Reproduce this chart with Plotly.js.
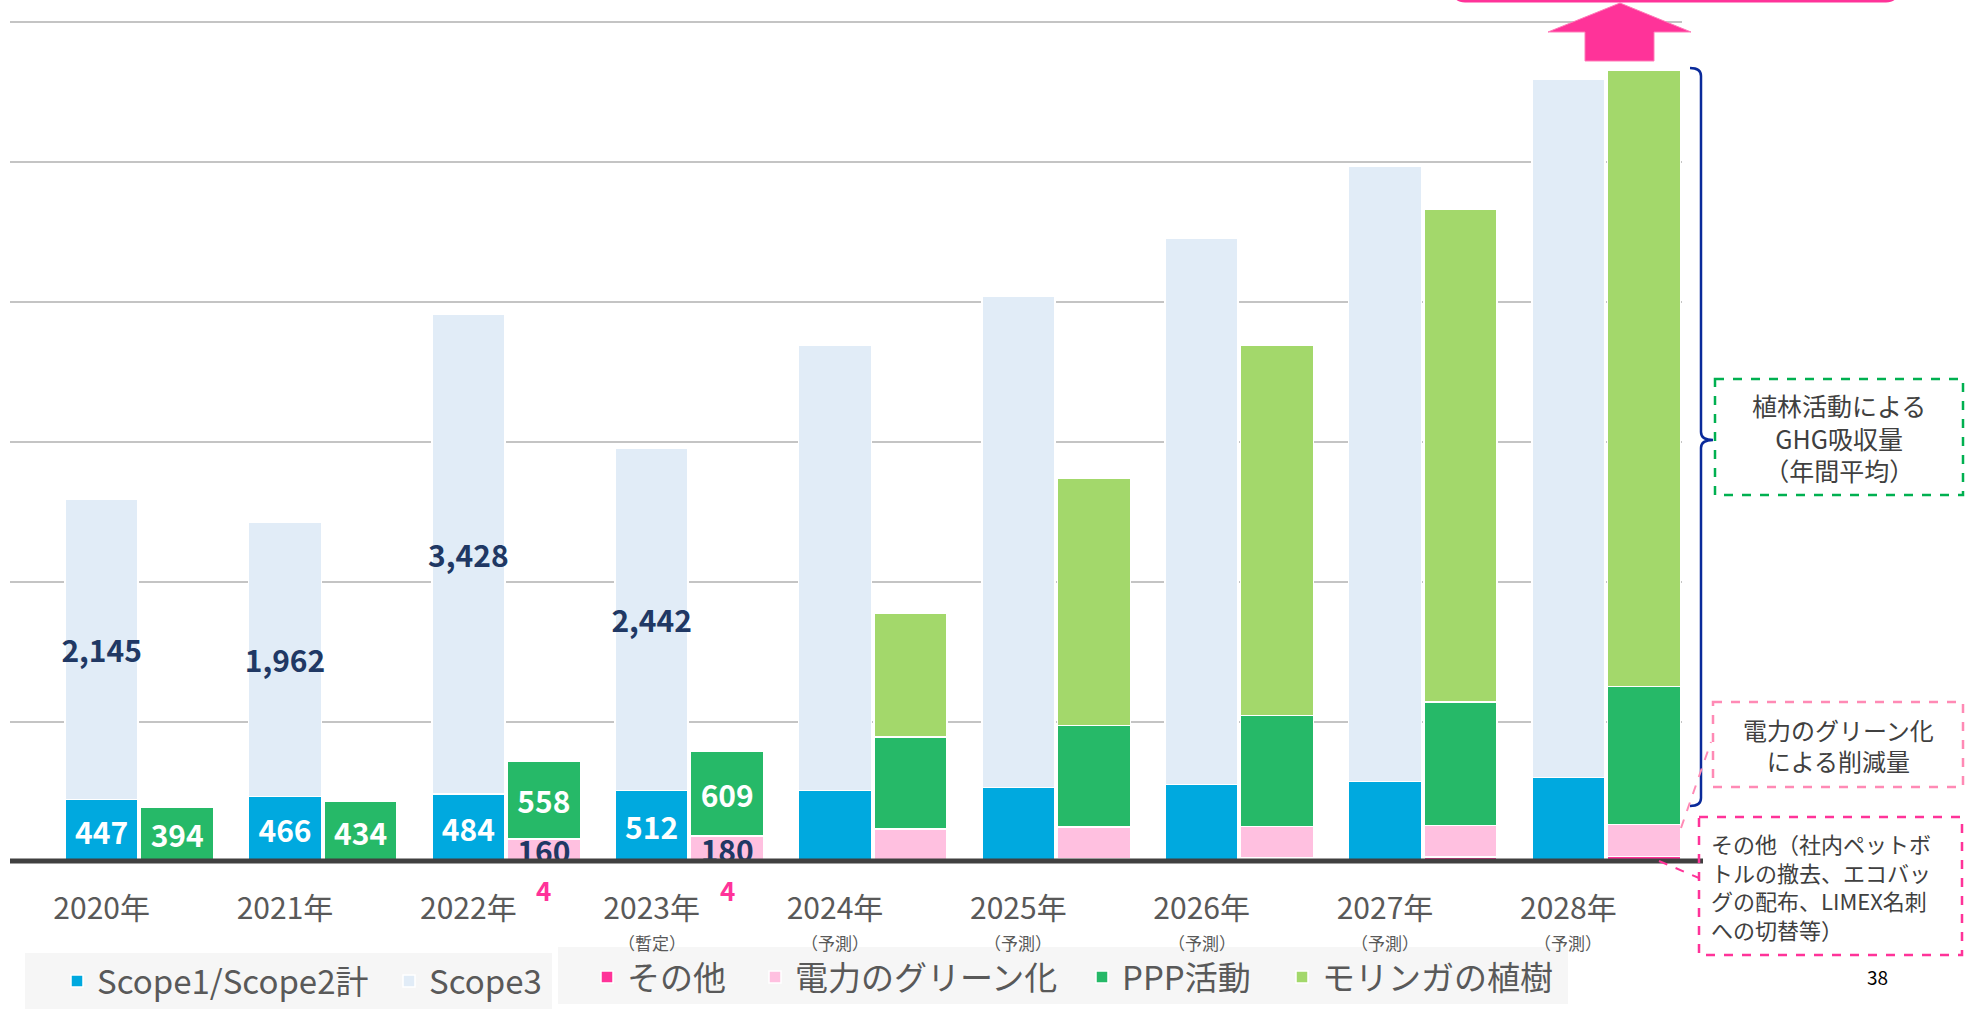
<!DOCTYPE html>
<html>
<head>
<meta charset="utf-8">
<script src="https://cdn.plot.ly/plotly-3.0.1.min.js"></script>
<style>
html,body{margin:0;padding:0;background:#ffffff;}
#chart{width:1966px;height:1009px;}
</style>
</head>
<body>
<div id="chart"></div>
<script>
// ---- data ----
const years = ['2020','2021','2022','2023','2024','2025','2026','2027','2028'];
const tickLabels = ['2020年','2021年','2022年','2023年','2024年','2025年','2026年','2027年','2028年'];
const subLabels = ['','','','（暫定）','（予測）','（予測）','（予測）','（予測）','（予測）'];
const scope12 = [447,466,484,512,511,532,552,576,602];
const scope3  = [2145,1962,3428,2442,3180,3505,3905,4395,4985];
const sonota   = [0,0,4,4,18,25,30,35,40];
const denryoku = [0,0,160,180,217,225,224,226,228];
const ppp      = [394,434,558,609,659,724,792,880,986];
const moringa  = [0,0,0,0,883,1766,2644,3523,4402];
const labeled  = [true,true,true,true,false,false,false,false,false];

const seriesNames = {
  s12: 'Scope1/Scope2計', s3: 'Scope3',
  so: 'その他', de: '電力のグリーン化', pp: 'PPP活動', mo: 'モリンガの植樹'
};

// ---- geometry helpers (pixel -> paper) ----
const W = 1966, H = 1009;
const ML = 10, MT = 20, PW = 1672, PH = 842;
const fx = px => (px - ML) / PW;
const fy = py => (MT + PH - py) / PH;
function path(cmds){
  return cmds.map(c => {
    const out = [];
    for (let i = 1; i < c.length; i += 2) out.push(fx(c[i]).toFixed(5) + ',' + fy(c[i+1]).toFixed(5));
    return c[0] + out.join(' ');
  }).join(' ');
}

const fmt = v => v.toLocaleString('en-US');
const FONT = '"Noto Sans CJK JP", "Noto Sans", sans-serif';
const BW = 0.398;

function bar(name, y, color, axis, legend, textArr, textColor){
  return {
    type:'bar', width: BW, hoverinfo:'skip', textangle:0, constraintext:'none',
    textposition:'inside', insidetextanchor:'middle', cliponaxis:false,
    name: name, x: years, y: y, xaxis: axis, yaxis: 'y', legend: legend,
    marker: {color: color, line: {color:'#ffffff', width:1.5}},
    text: textArr,
    textfont: {family: FONT, size: 30, color: textColor, weight: 700}
  };
}

const traces = [
  bar(seriesNames.s12, scope12, '#00A9DF', 'x', 'legend', scope12.map((v,i)=> labeled[i] ? fmt(v) : ''), '#ffffff'),
  bar(seriesNames.s3, scope3, '#E1ECF7', 'x', 'legend2', scope3.map((v,i)=> labeled[i] ? fmt(v) : ''), '#203864'),
  bar(seriesNames.so, sonota, '#FF3399', 'x2', 'legend3', sonota.map(()=> ''), '#FF3399'),
  bar(seriesNames.de, denryoku, '#FFC0E0', 'x2', 'legend4', denryoku.map((v,i)=> labeled[i] && v>0 ? fmt(v) : ''), '#203864'),
  bar(seriesNames.pp, ppp, '#26B968', 'x2', 'legend5', ppp.map((v,i)=> labeled[i] ? fmt(v) : ''), '#ffffff'),
  bar(seriesNames.mo, moringa, '#A3D86B', 'x2', 'legend6', moringa.map(()=> ''), '#ffffff')
];

// ---- annotations ----
const annotations = [];
subLabels.forEach((s,i) => {
  if (s) annotations.push({xref:'x', x: i, yref:'paper', y: fy(942), text: s, showarrow:false,
    font:{family: FONT, size:17, color:'#595959'}, xanchor:'center', yanchor:'middle'});
});
sonota.forEach((v,i) => {
  if (labeled[i] && v > 0) annotations.push({xref:'x2', x: i, yref:'y', y: 0, yshift: -27, text: String(v),
    showarrow:false, font:{family: FONT, size:26, color:'#FF3399', weight:700}, xanchor:'center', yanchor:'middle'});
});
annotations.push({xref:'paper', yref:'paper', x: fx(1839), y: fy(437), text:'植林活動による<br>GHG吸収量<br>（年間平均）',
  showarrow:false, font:{family: FONT, size:25, color:'#404040'}, align:'center', xanchor:'center', yanchor:'middle'});
annotations.push({xref:'paper', yref:'paper', x: fx(1838), y: fy(745), text:'電力のグリーン化<br>による削減量',
  showarrow:false, font:{family: FONT, size:24, color:'#404040'}, align:'center', xanchor:'center', yanchor:'middle'});
annotations.push({xref:'paper', yref:'paper', x: fx(1709), y: fy(886), text:'その他（社内ペットボ<br>トルの撤去、エコバッ<br>グの配布、LIMEX名刺<br>への切替等）',
  showarrow:false, font:{family: FONT, size:22, color:'#404040'}, align:'left', xanchor:'left', yanchor:'middle'});
annotations.push({xref:'paper', yref:'paper', x: fx(1877), y: fy(976), text:'38',
  showarrow:false, font:{family: FONT, size:19, color:'#000000'}, xanchor:'center', yanchor:'middle'});

// ---- shapes ----
const shapes = [
  // legend backgrounds
  {type:'rect', xref:'paper', yref:'paper', x0: fx(25), x1: fx(552), y0: fy(953), y1: fy(1012),
   fillcolor:'#f6f6f6', line:{width:0}, layer:'below'},
  {type:'rect', xref:'paper', yref:'paper', x0: fx(558), x1: fx(1568), y0: fy(947), y1: fy(1004),
   fillcolor:'#f6f6f6', line:{width:0}, layer:'below'},
  // baseline
  {type:'line', xref:'paper', yref:'paper', x0: fx(10), x1: fx(1703), y0: fy(861), y1: fy(861),
   line:{color:'#404040', width:5}, layer:'above'},
  // brace
  {type:'path', xref:'paper', yref:'paper', layer:'above', line:{color:'#0A2A9A', width:2.5},
   path: path([['M',1690,68],['Q',1701,68,1701,76],['L',1701,432],['Q',1701,440,1713,440],['Q',1701,440,1701,448],['L',1701,798],['Q',1701,806,1690,806]])},
  // green dashed box
  {type:'rect', xref:'paper', yref:'paper', x0: fx(1715), x1: fx(1963), y0: fy(379), y1: fy(495),
   line:{color:'#00B050', width:2.5, dash:'dash'}},
  // pink dashed box (electricity)
  {type:'rect', xref:'paper', yref:'paper', x0: fx(1713), x1: fx(1963), y0: fy(702), y1: fy(787),
   line:{color:'#FF8AB5', width:2.5, dash:'dash'}},
  // pink dashed box (others)
  {type:'rect', xref:'paper', yref:'paper', x0: fx(1699), x1: fx(1962), y0: fy(817), y1: fy(955),
   line:{color:'#FF3399', width:2.5, dash:'dash'}},
  // connector lines
  {type:'line', xref:'paper', yref:'paper', x0: fx(1681), y0: fy(828), x1: fx(1711), y1: fy(742),
   line:{color:'#FF8AB5', width:2, dash:'dash'}},
  {type:'line', xref:'paper', yref:'paper', x0: fx(1659), y0: fy(861), x1: fx(1699), y1: fy(878),
   line:{color:'#FF3399', width:2, dash:'dash'}},
  // up arrow
  {type:'path', xref:'paper', yref:'paper', fillcolor:'#FF3399', line:{color:'#FF7AB8', width:1},
   path: path([['M',1620,3],['L',1691,32],['L',1654,32],['L',1654,61],['L',1585,61],['L',1585,32],['L',1548,32],['Z']])},
  // top box (cut off)
  {type:'path', xref:'paper', yref:'paper', line:{color:'#FF3399', width:3},
   path: path([['M',1455,-40],['L',1455,-8],['Q',1455,1,1465,1],['L',1886,1],['Q',1896,1,1896,-8],['L',1896,-40]])}
];

function legendAt(px, py){
  return {orientation:'h', xref:'container', yref:'container', x: px / W, y: 1 - py / H,
    xanchor:'left', yanchor:'middle', bgcolor:'rgba(0,0,0,0)',
    font:{family: FONT, size:33, color:'#595959'}, traceorder:'normal', itemclick:false};
}

const layout = {
  width: W, height: H,
  margin: {l: ML, r: W - ML - PW, t: MT, b: H - MT - PH, pad: 0, autoexpand:false},
  paper_bgcolor:'#ffffff', plot_bgcolor:'#ffffff',
  font: {family: FONT, color:'#595959'},
  barmode: 'stack',
  showlegend: true,
  xaxis: {type:'category', range:[-0.5, 8.62], tickmode:'array', tickvals: years, ticktext: tickLabels,
    tickfont:{family: FONT, size:30, color:'#595959'}, showgrid:false, zeroline:false, showline:false,
    ticks:'', ticklabelstandoff: 26, fixedrange:true, automargin:false},
  xaxis2: {type:'category', overlaying:'x', anchor:'y', range:[-0.912, 8.208], visible:false, fixedrange:true},
  yaxis: {range:[0,6012], tick0:0, dtick:1000, showticklabels:false, gridcolor:'#c4c4c4', gridwidth:2,
    zeroline:false, showline:false, fixedrange:true, automargin:false},
  legend:  legendAt(57, 981),
  legend2: legendAt(389, 981),
  legend3: legendAt(587, 977),
  legend4: legendAt(755, 977),
  legend5: legendAt(1082, 977),
  legend6: legendAt(1282, 977),
  annotations: annotations,
  shapes: shapes
};

Plotly.newPlot('chart', traces, layout, {staticPlot:true, displayModeBar:false});
</script>
</body>
</html>
